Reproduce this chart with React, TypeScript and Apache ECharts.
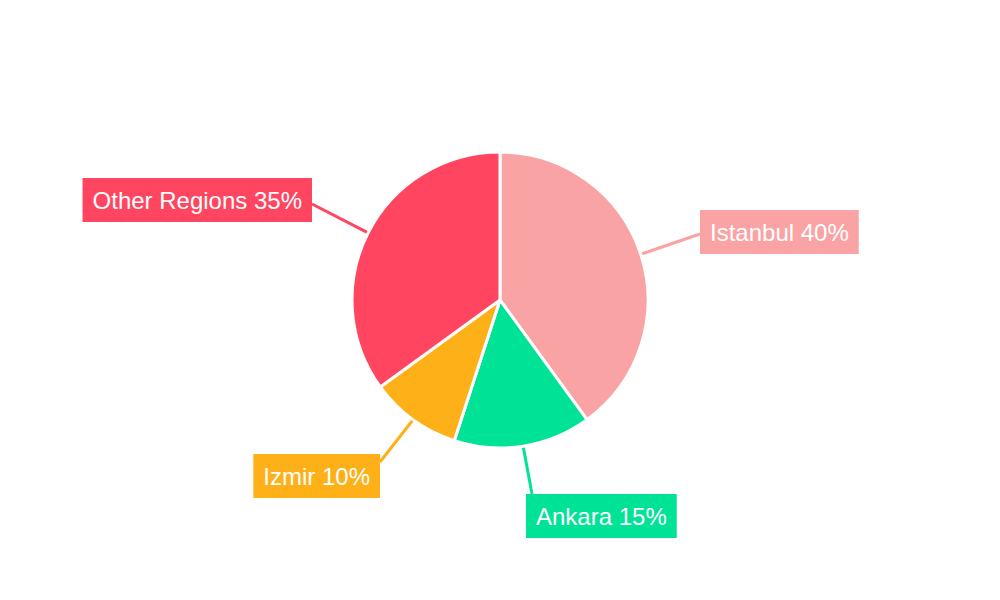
import React, { useEffect, useRef } from "react";
import * as echarts from "echarts";

const categories = ["Istanbul", "Ankara", "Izmir", "Other Regions"];
const values = [40, 15, 10, 35];
const colors = ["#F9A3A4", "#00E396", "#FEB019", "#FF4560"];

export default function App() {
  const ref = useRef<HTMLDivElement>(null);
  useEffect(() => {
    if (!ref.current) return;
    const chart = echarts.init(ref.current, undefined, { renderer: "svg" });
    const labelSpots: Array<{
      x: number;
      y: number;
      align: "left" | "right";
      end: [number, number];
    }> = [
      { x: 700, y: 232, align: "left", end: [700, 234] },
      { x: 526, y: 516, align: "left", end: [532, 494] },
      { x: 380, y: 476, align: "right", end: [380, 462] },
      { x: 312, y: 200, align: "right", end: [312, 204] },
    ];
    chart.setOption({
      animation: false,
      backgroundColor: "#ffffff",
      series: [
        {
          type: "pie",
          center: ["50%", "50%"],
          radius: 148,
          startAngle: 90,
          clockwise: true,
          data: categories.map((name, i) => ({
            name,
            value: values[i],
            itemStyle: { color: colors[i] },
            label: { backgroundColor: colors[i] },
            labelLine: { lineStyle: { color: colors[i] } },
          })),
          itemStyle: { borderColor: "#ffffff", borderWidth: 3 },
          label: {
            show: true,
            position: "outside",
            formatter: "{b} {c}%",
            color: "#ffffff",
            fontSize: 24,
            fontFamily: "Liberation Sans, Arial, sans-serif",
            padding: [10, 10],
            lineHeight: 24,
          },
          labelLine: {
            show: true,
            length: 60,
            length2: 0,
            smooth: false,
            lineStyle: { width: 3 },
          },
          labelLayout: (params: any) => {
            const s = labelSpots[params.dataIndex];
            const start = params.labelLinePoints
              ? params.labelLinePoints[0]
              : s.end;
            return {
              x: s.x,
              y: s.y,
              align: s.align,
              verticalAlign: "middle",
              labelLinePoints: [start, s.end, s.end],
            };
          },
          emphasis: { disabled: true },
        },
      ],
    });
    return () => chart.dispose();
  }, []);
  return (
    <div
      ref={ref}
      style={{ position: "fixed", left: 0, top: 0, width: 1000, height: 600 }}
    />
  );
}
